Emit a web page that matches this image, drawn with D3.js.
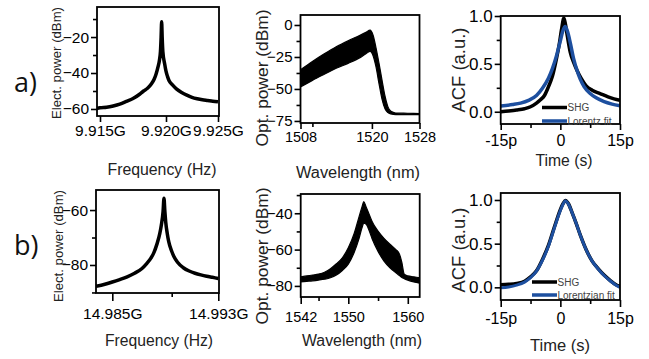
<!DOCTYPE html>
<html><head><meta charset="utf-8">
<script src="https://cdn.jsdelivr.net/npm/d3@7"></script>
<style>
body{margin:0;background:#fff;}
svg{display:block;font-family:Arial,"Liberation Sans",sans-serif;}
</style></head><body>
<svg id="c" width="649" height="359"></svg>
<script>
// ---------- DATA ----------
// a) electrical spectrum (GHz, dBm)
const freqA = [9.9147, 9.9150, 9.9155, 9.9160, 9.9165, 9.9170, 9.9175, 9.9180, 9.9183, 9.9186, 9.9189, 9.9191, 9.91925, 9.9194, 9.9195, 9.91958, 9.91963, 9.91967, 9.91971, 9.91976, 9.9199, 9.9200, 9.92015, 9.9203, 9.9206, 9.9210, 9.9215, 9.9220, 9.9225, 9.9230, 9.9235, 9.9240, 9.9245, 9.9250];
const elecA = [-59.8, -59.3, -59, -58.3, -57.3, -55.8, -54.2, -51.8, -50, -48.5, -46, -43.5, -40.5, -36.5, -33, -28, -20, -11.5, -20, -28, -35, -39, -42, -44.3, -46.5, -48.8, -50.8, -52.3, -53.5, -54.3, -54.9, -55.3, -55.7, -56];
const freqTicksA = [9.915, 9.920, 9.925];
// a) optical spectrum band (nm, dBm)
const wlA = [1508, 1510, 1512, 1514, 1516, 1518, 1519, 1519.7, 1520.2, 1520.7, 1521.2, 1521.7, 1522.2, 1522.7, 1523.2, 1524, 1526, 1528];
const optUpperA = [-35, -28.5, -22.5, -17, -12.3, -8, -5.7, -4, -8, -18, -30, -43, -55.5, -64, -67.5, -68.8, -69, -69.2];
const optLowerA = [-48.4, -43.3, -38.5, -33.8, -30, -25.5, -22.5, -20.7, -24, -33, -46, -58, -65.5, -68.5, -69.5, -70, -70, -70];
const wlTicksA = [1508, 1520, 1528];
// a) autocorrelation (ps, a.u.)
const tShgA = [-15, -13, -11, -9, -7.5, -6, -5, -4, -3, -2, -1, -0.3, 0.3, 0.9, 1.3, 1.8, 2.5, 3.3, 4.2, 5.2, 6.5, 8, 10, 12, 13.5, 15];
const shgA = [0.0, 0.008, 0.018, 0.032, 0.052, 0.09, 0.125, 0.17, 0.26, 0.37, 0.55, 0.7, 0.86, 0.98, 0.91, 0.78, 0.62, 0.52, 0.43, 0.35, 0.27, 0.225, 0.19, 0.155, 0.135, 0.12];
const tFitA = [-15, -12, -10, -8, -6, -4.5, -3, -2, -1, 0, 0.6, 1.2, 1.8, 2.5, 3.3, 4.2, 5, 6, 7.5, 9, 11, 13, 15];
const fitA = [0.06, 0.075, 0.09, 0.118, 0.17, 0.245, 0.35, 0.45, 0.58, 0.74, 0.84, 0.89, 0.84, 0.72, 0.56, 0.43, 0.34, 0.26, 0.19, 0.145, 0.105, 0.08, 0.063];
const legendA = ["SHG", "Lorentz fit"];

// b) electrical spectrum
const freqB = [14.9839, 14.9845, 14.9850, 14.9855, 14.9860, 14.9865, 14.9870, 14.9873, 14.9876, 14.9878, 14.9880, 14.9882, 14.9883, 14.98842, 14.98848, 14.98854, 14.9886, 14.9887, 14.9888, 14.9890, 14.9892, 14.9895, 14.9900, 14.9905, 14.9910, 14.9915, 14.9920, 14.9925, 14.9930];
const elecB = [-87.8, -87, -86.2, -85.3, -84.3, -83, -81.3, -79.6, -77.5, -75.5, -72.5, -68.5, -65.5, -60.5, -55.7, -60.5, -64.5, -68.5, -71.5, -75, -77, -79, -81, -82.2, -83, -83.6, -84.1, -84.5, -84.9];
const freqTicksB = [14.985, 14.993];
const freqMinorB = [14.989];
// b) optical spectrum band
const wlB = [1542, 1543, 1544, 1545, 1546, 1547, 1548, 1549, 1550, 1551, 1551.8, 1552.3, 1552.6, 1553, 1553.5, 1554, 1555, 1556, 1557, 1558, 1558.6, 1559, 1559.4, 1560, 1561, 1562];
const optUpperB = [-75, -74.5, -74, -73.5, -72.5, -70.5, -67.8, -64.5, -59, -51, -42, -36.5, -33.6, -36.5, -40.5, -44.5, -49.8, -53.8, -57, -60, -62.5, -67, -73.5, -74.5, -75, -75.5];
const optLowerB = [-77.8, -77.5, -77.2, -76.8, -76.3, -75.5, -74, -71.5, -68, -61.5, -54, -48, -45.5, -46, -49.5, -54, -61, -66.3, -70, -72.8, -74.3, -75.3, -76, -76.8, -77.8, -78.5];
const wlTicksB = [1542, 1550, 1560];
// b) autocorrelation
const tB = [-15, -13, -11, -9, -7.5, -6, -4.5, -3, -1.5, 0, 0.7, 1.3, 2, 3, 4, 5, 6.5, 8, 9.5, 11, 12.5, 14, 15];
const shgB = [0.03, 0.035, 0.045, 0.07, 0.12, 0.19, 0.32, 0.48, 0.69, 0.89, 0.96, 0.995, 0.96, 0.85, 0.73, 0.6, 0.43, 0.3, 0.215, 0.14, 0.08, 0.03, 0.01];
const fitB = [-0.005, 0.005, 0.025, 0.06, 0.11, 0.185, 0.31, 0.47, 0.68, 0.88, 0.955, 0.99, 0.955, 0.85, 0.73, 0.6, 0.43, 0.3, 0.21, 0.135, 0.075, 0.025, 0.0];
const legendB = ["SHG", "Lorentzian fit"];
const timeTicks = [-15, 0, 15];
const timeMinor = [-7.5, 7.5];
const acfTicks = [0, 0.5, 1.0];
const acfMinor = [0.25, 0.75];

// ---------- DRAW ----------
const svg = d3.select("#c");
const BLUE = "#1d4f9f";
let clipN = 0;

function panel(o) {
  const g = svg.append("g");
  const id = "clip" + (clipN++);
  svg.append("clipPath").attr("id", id).append("rect")
    .attr("x", o.l).attr("y", o.t).attr("width", o.r - o.l).attr("height", o.b - o.t);
  const plot = g.append("g").attr("clip-path", `url(#${id})`);
  o.draw(plot);
  const ax = d3.axisBottom(o.x).tickValues(o.xt).tickSize(o.xts || 6).tickPadding(o.xpad || 3).tickFormat(o.xf);
  const axm = d3.axisBottom(o.x).tickValues(o.xm || []).tickSize(4).tickFormat("");
  const ay = d3.axisLeft(o.y).tickValues(o.yt).tickSize(6).tickPadding(2).tickFormat(o.yf);
  const aym = d3.axisLeft(o.y).tickValues(o.ym || []).tickSize(4).tickFormat("");
  const gx = g.append("g").attr("transform", `translate(0,${o.b})`).call(ax);
  g.append("g").attr("transform", `translate(0,${o.b})`).call(axm);
  const gy = g.append("g").attr("transform", `translate(${o.l},0)`).call(ay);
  g.append("g").attr("transform", `translate(${o.l},0)`).call(aym);
  g.selectAll(".domain").remove();
  g.selectAll(".tick line").attr("stroke", "#000").attr("stroke-width", 1.6);
  gx.selectAll("text").attr("font-size", o.xfs).attr("fill", "#000").attr("font-family", "Arial, 'Liberation Sans', sans-serif");
  gy.selectAll("text").attr("font-size", o.yfs).attr("fill", "#000").attr("font-family", "Arial, 'Liberation Sans', sans-serif");
  g.append("rect").attr("x", o.l).attr("y", o.t).attr("width", o.r - o.l).attr("height", o.b - o.t)
    .attr("fill", "none").attr("stroke", "#000").attr("stroke-width", 1.8);
  g.append("text").attr("x", o.xtp[0]).attr("y", o.xtp[1]).attr("text-anchor", "middle")
    .attr("font-size", o.tfs).attr("fill", "#222")
    .attr("textLength", o.xtl).attr("lengthAdjust", "spacingAndGlyphs").text(o.xtitle);
  g.append("text").attr("transform", `translate(${o.ytp[0]},${o.ytp[1]}) rotate(-90)`)
    .attr("text-anchor", "middle").attr("dominant-baseline", "central")
    .attr("font-size", o.ytfs).attr("fill", "#222")
    .attr("textLength", o.ytl).attr("lengthAdjust", "spacingAndGlyphs").text(o.ytitle);
  return g;
}

const gfmt = d => d3.format(".3f")(d) + "G";

// a1
(function(){
  const x = d3.scaleLinear().domain(freqTicksA).range([100, 166, 218]);
  const y = d3.scaleLinear().domain([-63.9, -3.3]).range([116, 7]);
  panel({l:97, r:219, t:7, b:116, x, y, xt:freqTicksA, xf:gfmt, yt:[-20,-40,-60], ym:[-10,-30,-50],
    xfs:15.5, yfs:15.5, tfs:16, ytfs:13.5, xtitle:"Frequency (Hz)", ytitle:"Elect. power (dBm)",
    xtl:109, ytl:112, xtp:[162,175], ytp:[56,63],
    draw: p => {
      const line = d3.line().x((d,i)=>x(freqA[i])).y(d=>y(d)).curve(d3.curveMonotoneX);
      p.append("path").attr("d", line(elecA)).attr("fill","none").attr("stroke","#000").attr("stroke-width",3.5).attr("stroke-linejoin","round");
    }});
})();

// a2
(function(){
  const x = d3.scaleLinear().domain([1508, 1528]).range([300.5, 419.5]);
  const y = d3.scaleLinear().domain([-76.6, 7.8]).range([123, 15]);
  panel({l:300.5, r:419.5, t:15, b:123, x, y, xt:wlTicksA, xm:[1510], xf:d3.format("d"), yt:[0,-25,-50,-75], ym:[-12.5,-37.5,-62.5],
    xfs:14.5, yfs:15, tfs:16, ytfs:17, xtitle:"Wavelength (nm)", ytitle:"Opt. power (dBm)",
    xtl:124, ytl:137, xtp:[358,178], ytp:[262,78],
    draw: p => {
      const area = d3.area().x((d,i)=>x(wlA[i])).y0((d,i)=>y(optLowerA[i])).y1(d=>y(d)).curve(d3.curveMonotoneX);
      p.append("path").attr("d", area(optUpperA)).attr("fill","#000").attr("stroke","#000").attr("stroke-width",1.2);
    }});
})();

// a3
(function(){
  const x = d3.scaleLinear().domain([-15, 15]).range([500.7, 620]);
  const y = d3.scaleLinear().domain([-0.128, 1.0]).range([124, 16]);
  const g = panel({l:500.7, r:620, t:16, b:124, x, y, xt:timeTicks, xm:timeMinor, xf:d=> d===0?"0":d+"p", xpad:5, yt:acfTicks, ym:acfMinor, yf:d3.format(".1f"),
    xfs:16, yfs:17, tfs:16, ytfs:18, xtitle:"Time (s)", ytitle:"ACF (a.u.)",
    xtl:57, ytl:85, xtp:[564,166], ytp:[459,70],
    draw: p => {
      const l1 = d3.line().x((d,i)=>x(tShgA[i])).y(d=>y(d)).curve(d3.curveMonotoneX);
      const l2 = d3.line().x((d,i)=>x(tFitA[i])).y(d=>y(d)).curve(d3.curveMonotoneX);
      p.append("path").attr("d", l1(shgA)).attr("fill","none").attr("stroke","#000").attr("stroke-width",3.5);
      p.append("path").attr("d", l2(fitA)).attr("fill","none").attr("stroke",BLUE).attr("stroke-width",3.5);
    }});
  const cols = ["#000", BLUE];
  legendA.forEach((t,i)=>{
    const yy = 107.5 + i*13.5;
    g.append("line").attr("x1",542).attr("x2",567).attr("y1",yy).attr("y2",yy).attr("stroke",cols[i]).attr("stroke-width",3.5);
    g.append("text").attr("x",567.5).attr("y",yy).attr("dominant-baseline","central").attr("font-size",10).attr("fill","#444").text(t);
  });
})();

// b1
(function(){
  const x = d3.scaleLinear().domain([14.985, 14.989, 14.993]).range([112.3, 171.7, 218.3]);
  const y = d3.scaleLinear().domain([-90.2, -52.7]).range([293, 190]);
  panel({l:96, r:219, t:190, b:293, x, y, xt:freqTicksB, xm:freqMinorB, xf:gfmt, xts:8, xpad:7, yt:[-60,-80], ym:[-70,-90],
    xfs:15.5, yfs:15.5, tfs:16, ytfs:13.5, xtitle:"Frequency (Hz)", ytitle:"Elect. power (dBm)",
    xtl:108, ytl:112, xtp:[159,346], ytp:[58,246],
    draw: p => {
      const line = d3.line().x((d,i)=>x(freqB[i])).y(d=>y(d)).curve(d3.curveMonotoneX);
      p.append("path").attr("d", line(elecB)).attr("fill","none").attr("stroke","#000").attr("stroke-width",3.5).attr("stroke-linejoin","round");
    }});
})();

// b2
(function(){
  const x = d3.scaleLinear().domain([1542, 1562]).range([300.7, 419.7]);
  const y = d3.scaleLinear().domain([-86.1, -29.4]).range([297, 194]);
  panel({l:300.7, r:419.7, t:194, b:297, x, y, xt:wlTicksB, xm:[1545,1555], xf:d3.format("d"), xts:7, xpad:8, yt:[-40,-60,-80], ym:[-30,-50,-70],
    xfs:14.5, yfs:15.5, tfs:16, ytfs:17, xtitle:"Wavelength (nm)", ytitle:"Opt. power (dBm)",
    xtl:120, ytl:137, xtp:[362,346], ytp:[262.5,256],
    draw: p => {
      const area = d3.area().x((d,i)=>x(wlB[i])).y0((d,i)=>y(optLowerB[i])).y1(d=>y(d)).curve(d3.curveMonotoneX);
      p.append("path").attr("d", area(optUpperB)).attr("fill","#000").attr("stroke","#000").attr("stroke-width",1.2);
    }});
})();

// b3
(function(){
  const x = d3.scaleLinear().domain([-15, 15]).range([500.7, 620]);
  const y = d3.scaleLinear().domain([-0.145, 1.08]).range([300, 193]);
  const g = panel({l:500.7, r:620, t:193, b:300, x, y, xt:timeTicks, xm:timeMinor, xf:d=> d===0?"0":d+"p", xts:7, xpad:6, yt:acfTicks, ym:acfMinor, yf:d3.format(".1f"),
    xfs:16, yfs:17, tfs:16, ytfs:18, xtitle:"Time (s)", ytitle:"ACF (a.u.)",
    xtl:60, ytl:85, xtp:[560,351], ytp:[459,250],
    draw: p => {
      const l1 = d3.line().x((d,i)=>x(tB[i])).y(d=>y(d)).curve(d3.curveMonotoneX);
      p.append("path").attr("d", l1(shgB)).attr("fill","none").attr("stroke","#000").attr("stroke-width",3.5);
      p.append("path").attr("d", l1(fitB)).attr("fill","none").attr("stroke",BLUE).attr("stroke-width",3);
    }});
  const cols = ["#000", BLUE];
  legendB.forEach((t,i)=>{
    const yy = 282 + i*13;
    g.append("line").attr("x1",532).attr("x2",557).attr("y1",yy).attr("y2",yy).attr("stroke",cols[i]).attr("stroke-width",3.5);
    g.append("text").attr("x",557.5).attr("y",yy).attr("dominant-baseline","central").attr("font-size",10).attr("fill","#444").text(t);
  });
})();

// panel letters
const letters = ["a)", "b)"];
svg.selectAll("text.lbl").data(letters).enter().append("text").attr("class","lbl")
  .attr("x", 14).attr("y", (d,i)=> i===0 ? 92 : 255)
  .attr("font-size", 27).attr("font-family","'Open Sans', Arial, sans-serif").attr("fill","#111").text(d=>d);
</script>
</body></html>
